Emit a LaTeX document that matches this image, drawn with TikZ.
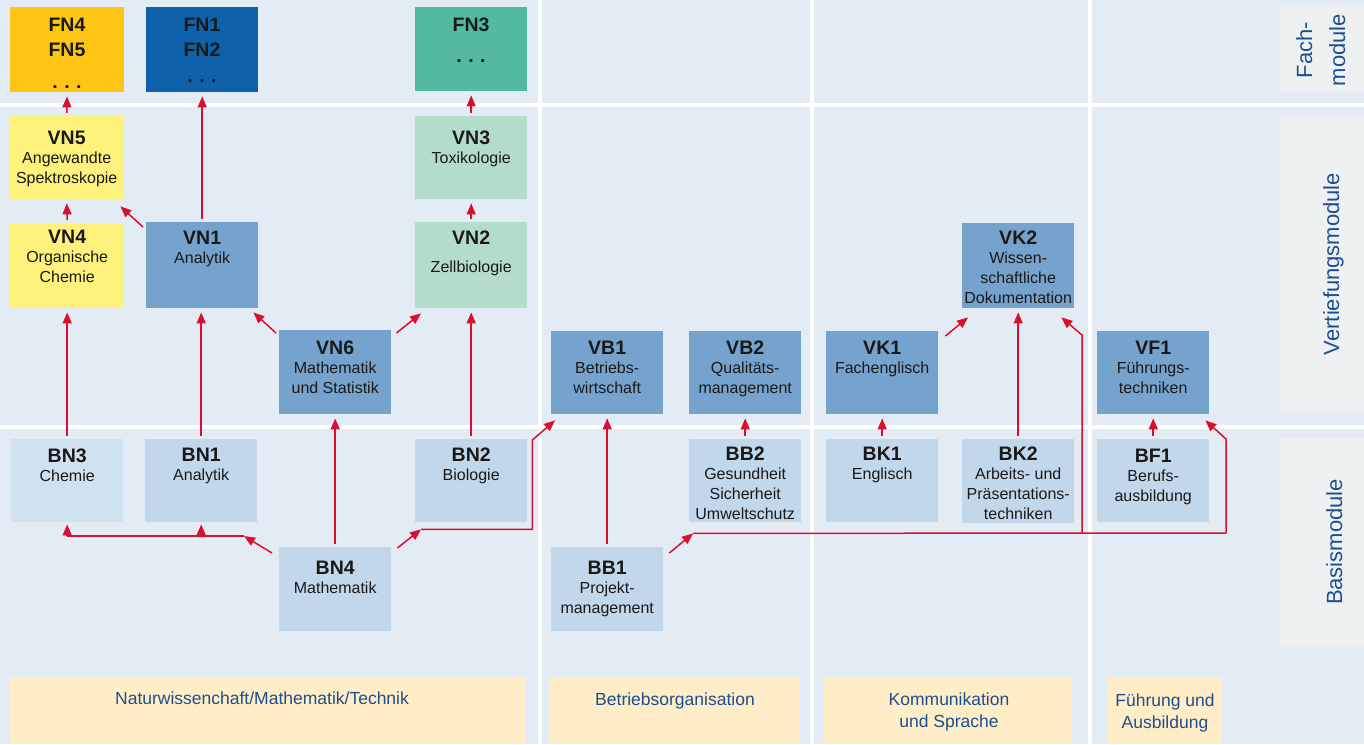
\documentclass[tikz,border=0pt]{standalone}
\usepackage{fontspec}
\setmainfont{Liberation Sans}
\usetikzlibrary{arrows.meta,calc}
\definecolor{bgc}{HTML}{E3EBF5}
\definecolor{panelc}{HTML}{EEF1F2}
\definecolor{fnY}{HTML}{FFC515}
\definecolor{fnB}{HTML}{0E62AB}
\definecolor{fnG}{HTML}{53B9A1}
\definecolor{vY}{HTML}{FFF27C}
\definecolor{vB}{HTML}{75A3CD}
\definecolor{vG}{HTML}{B4DCCB}
\definecolor{bB}{HTML}{C3D7EA}
\definecolor{bBl}{HTML}{D0E1F0}
\definecolor{botc}{HTML}{FFEDC8}
\definecolor{lblc}{HTML}{1D4F8F}
\definecolor{redc}{HTML}{D8102E}
\newcommand\ttl[1]{{\fontsize{19.5}{19.7}\selectfont\bfseries\rule{0pt}{15pt}#1}}
\newcommand\dts{{\fontsize{19.5}{19.7}\selectfont\bfseries .\,\,.\,\,.}}
\tikzset{
  box/.style={draw=none, anchor=north west, inner sep=0pt, minimum width=112pt, minimum height=84pt},
  txt/.style={anchor=north, align=center, inner sep=0pt, font=\fontsize{16}{19.7}\selectfont, text={black!90}},
  wire/.style={draw=redc, line width=1.5pt},
  arr/.style={wire, -{Triangle[length=11pt,width=9pt]}},
  varr/.style={arr, shorten <=3pt, shorten >=4pt},
  sep/.style={draw=white, line width=4.5pt},
  botbox/.style={fill=botc, draw=none},
  bottxt/.style={anchor=base, align=center, inner sep=0pt, text=lblc, font=\fontsize{17.5}{21.5}\selectfont},
  sidetxt/.style={anchor=base, align=center, inner sep=0pt, text=lblc, rotate=90, font=\fontsize{22}{33}\selectfont}
}
\begin{document}
\begin{tikzpicture}[x=1pt,y=-1pt]
\useasboundingbox (0,0) rectangle (1364,744);
\fill[bgc] (0,0) rectangle (1364,744);
% separators
\draw[sep] (0,105) -- (1364,105);
\draw[sep] (0,427) -- (1364,427);
\draw[sep] (540,0) -- (540,744);
\draw[sep] (812,0) -- (812,744);
\draw[sep] (1090,0) -- (1090,744);
% side panels
\fill[panelc] (1280,7) rectangle (1364,92);
\fill[panelc] (1280,115) rectangle (1364,413);
\fill[panelc] (1280,438) rectangle (1364,647);
\node[sidetxt] (lblF) at (1345,50) {Fach-\\module};
\node[sidetxt] (lblV) at (1339,264) {Vertiefungsmodule};
\node[sidetxt] (lblB) at (1342,542) {Basismodule};
% bottom boxes
\fill[botbox] (10,677) rectangle (526,744);
\fill[botbox] (549,677) rectangle (800,744);
\fill[botbox] (824,677) rectangle (1072,744);
\fill[botbox] (1108,677) rectangle (1222,744);
\node[bottxt] (bt1) at (262,704) {Naturwissenchaft/Mathematik/Technik};
\node[bottxt] (bt2) at (675,705) {Betriebsorganisation};
\node[bottxt] (bt3) at (949,727) {Kommunikation\\und Sprache};
\node[bottxt] (bt4) at (1165,728) {Führung und\\Ausbildung};
% Fachmodule
\node[box, fill=fnY, minimum width=114pt, minimum height=85pt] (fn45) at (10,7) {};
\node[box, fill=fnB, minimum height=85pt] (fn12) at (146,7) {};
\node[box, fill=fnG, minimum height=84pt] (fn3) at (415,7) {};
\node[txt] (fn45t) at (67,16) {\ttl{FN4}\\[5.3pt]\ttl{FN5}\\[12.3pt]\dts};
\node[txt] (fn12t) at (202,16) {\ttl{FN1}\\[5.3pt]\ttl{FN2}\\[6.8pt]\dts};
\node[txt] (fn3t) at (471,16) {\ttl{FN3}\\[12pt]\dts};
% Vertiefungsmodule
\node[box, fill=vY, minimum width=113pt, minimum height=83pt] (vn5) at (10,116) {};
\node[box, fill=vG, minimum height=83pt] (vn3) at (415,116) {};
\node[box, fill=vY, minimum width=114pt, minimum height=85pt] (vn4) at (10,223) {};
\node[box, fill=vB, minimum height=86pt] (vn1) at (146,222) {};
\node[box, fill=vG, minimum height=86pt] (vn2) at (415,222) {};
\node[box, fill=vB] (vn6) at (279,330) {};
\node[box, fill=vB, minimum height=83pt] (vb1) at (551,331) {};
\node[box, fill=vB, minimum height=83pt] (vb2) at (689,331) {};
\node[box, fill=vB, minimum height=83pt] (vk1) at (826,331) {};
\node[box, fill=vB, minimum height=85pt] (vk2) at (962,223) {};
\node[box, fill=vB, minimum height=83pt] (vf1) at (1097,331) {};
\node[txt] (vn5t) at (vn5.north |- 0,129) {\ttl{VN5}\\Angewandte\\Spektroskopie};
\node[txt] (vn3t) at (vn3.north |- 0,129) {\ttl{VN3}\\Toxikologie};
\node[txt] (vn4t) at (vn4.north |- 0,228) {\ttl{VN4}\\Organische\\Chemie};
\node[txt] (vn1t) at (vn1.north |- 0,229) {\ttl{VN1}\\Analytik};
\node[txt] (vn2t) at (vn2.north |- 0,229) {\ttl{VN2}\\[9pt]Zellbiologie};
\node[txt] (vn6t) at (vn6.north |- 0,339) {\ttl{VN6}\\Mathematik\\und Statistik};
\node[txt] (vb1t) at (vb1.north |- 0,339) {\ttl{VB1}\\Betriebs-\\wirtschaft};
\node[txt] (vb2t) at (vb2.north |- 0,339) {\ttl{VB2}\\Qualitäts-\\management};
\node[txt] (vk1t) at (vk1.north |- 0,339) {\ttl{VK1}\\Fachenglisch};
\node[txt] (vk2t) at (vk2.north |- 0,229) {\ttl{VK2}\\Wissen-\\schaftliche\\Dokumentation};
\node[txt] (vf1t) at (vf1.north |- 0,339) {\ttl{VF1}\\Führungs-\\techniken};
% Basismodule
\node[box, fill=bBl, minimum height=83pt] (bn3) at (11,439) {};
\node[box, fill=bB, minimum height=83pt] (bn1) at (145,439) {};
\node[box, fill=bB, minimum height=83pt] (bn2) at (415,439) {};
\node[box, fill=bB, minimum height=83pt] (bb2) at (689,439) {};
\node[box, fill=bB, minimum height=83pt] (bk1) at (826,439) {};
\node[box, fill=bB] (bk2) at (962,439) {};
\node[box, fill=bB, minimum height=83pt] (bf1) at (1097,439) {};
\node[box, fill=bB] (bn4) at (279,547) {};
\node[box, fill=bB] (bb1) at (551,547) {};
\node[txt] (bn3t) at (bn3.north |- 0,447) {\ttl{BN3}\\Chemie};
\node[txt] (bn1t) at (bn1.north |- 0,446) {\ttl{BN1}\\Analytik};
\node[txt] (bn2t) at (bn2.north |- 0,446) {\ttl{BN2}\\Biologie};
\node[txt] (bb2t) at (bb2.north |- 0,445) {\ttl{BB2}\\Gesundheit\\Sicherheit\\Umweltschutz};
\node[txt] (bk1t) at (bk1.north |- 0,445) {\ttl{BK1}\\Englisch};
\node[txt] (bk2t) at (bk2.north |- 0,445) {\ttl{BK2}\\Arbeits- und\\Präsentations-\\techniken};
\node[txt] (bf1t) at (bf1.north |- 0,447) {\ttl{BF1}\\Berufs-\\ausbildung};
\node[txt] (bn4t) at (bn4.north |- 0,559) {\ttl{BN4}\\Mathematik};
\node[txt] (bb1t) at (bb1.north |- 0,559) {\ttl{BB1}\\Projekt-\\management};
% vertical arrows
\draw[varr] (vn5.north) -- (fn45.south);
\draw[varr] (vn1.north) -- (fn12.south);
\draw[varr] (vn3.north) -- (fn3.south);
\draw[varr] (vn4.north) -- (vn5.south);
\draw[varr] (vn2.north) -- (vn3.south);
\draw[varr] (bn3.north) -- (bn3.north |- vn4.south);
\draw[varr] (bn1.north) -- (bn1.north |- vn1.south);
\draw[varr] (bn2.north) -- (vn2.south);
\draw[varr] (bn4.north) -- (vn6.south);
\draw[varr] (bb1.north) -- (vb1.south);
\draw[varr] (bb2.north) -- (vb2.south);
\draw[varr] (bk1.north) -- (vk1.south);
\draw[varr] (bk2.north) -- (vk2.south);
\draw[varr] (bf1.north) -- (vf1.south);
% diagonal arrows
\draw[arr] ($(vn1.north west)+(-3,5)$) -- ($(vn5.south east)+(-3,7)$);
\draw[arr] ($(vn6.north west)+(-3,3)$) -- ($(vn1.south east)+(-5,4)$);
\draw[arr] ($(vn6.north east)+(5,3)$) -- ($(vn2.south west)+(6,5)$);
\draw[arr] ($(vk1.north east)+(7,5)$) -- ($(vk2.south west)+(6,9)$);
% BN4 to the left
\coordinate (jl) at ($(bn4.north west)+(-35,-11)$);
\draw[arr] ($(bn4.north west)+(-7,6)$) -- (jl);
\draw[wire] (jl) -- (jl -| bn3.south);
\draw[arr] (jl -| bn3.south) -- ($(bn3.south)+(0,2)$);
\draw[arr] (jl -| bn1.south) -- ($(bn1.south)+(0,2)$);
% BN4 to the right
\coordinate (jr) at ($(bn2.south west)+(6,7)$);
\coordinate (jr2) at ($(bn2.south east)+(5,7)$);
\coordinate (jr3) at ($(bn2.north east)+(5,1)$);
\draw[arr] ($(bn4.north east)+(6,1)$) -- (jr);
\draw[arr] (jr) -- (jr2) -- (jr3) -- ($(vb1.south west)+(4,6)$);
% BB1 to the right
\coordinate (kb) at ($(bb2.south west)+(4,11)$);
\coordinate (k1) at (1082,533);
\coordinate (k2) at (1082,335);
\coordinate (k3) at (1226,533);
\coordinate (k4) at (1226,439);
\draw[arr] ($(bb1.north east)+(6,6)$) -- (kb);
\draw[wire] (kb) -- (k3);
\draw[arr] (k1) -- (k2) -- ($(vk2.south east)+(-13,9)$);
\draw[arr] (k3) -- (k4) -- ($(vf1.south east)+(-4,6)$);
\end{tikzpicture}
\end{document}
